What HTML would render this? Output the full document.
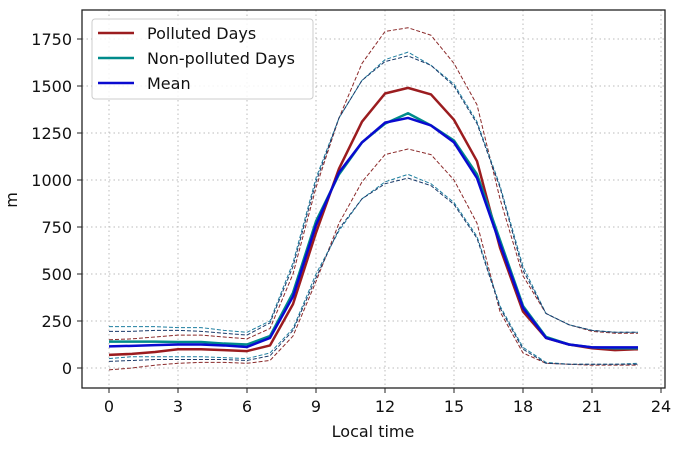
<!DOCTYPE html>
<html><head><meta charset="utf-8"><style>
body{margin:0;background:#fff;}
svg{font-family:"DejaVu Sans","Liberation Sans",sans-serif;}
</style></head><body>
<svg id="chart" width="695" height="450">
<g id="grid"></g>
<g id="series"></g>
<rect x="82" y="10" width="583" height="378" fill="none" stroke="#222" stroke-width="1.3"/>
<g id="xticks"></g>
<g id="yticks"></g>
<text x="373" y="437" font-size="16" text-anchor="middle" fill="#111">Local time</text>
<text x="17" y="200" font-size="16" text-anchor="middle" fill="#111" transform="rotate(-90 17 200)">m</text>
<g>
<rect x="92" y="19" width="221" height="80" rx="3" fill="#fff" fill-opacity="0.85" stroke="#ccc"/>
<line x1="98" y1="33" x2="134" y2="33" stroke="#9b1c1f" stroke-width="2.5"/>
<text x="147" y="39" font-size="16" fill="#111">Polluted Days</text>
<line x1="98" y1="58" x2="134" y2="58" stroke="#008b8b" stroke-width="2.5"/>
<text x="147" y="64" font-size="16" fill="#111">Non-polluted Days</text>
<line x1="98" y1="83" x2="134" y2="83" stroke="#0a0ad0" stroke-width="2.5"/>
<text x="147" y="89" font-size="16" fill="#111">Mean</text>
</g>
</svg>
<script>
const hours=[0,1,2,3,4,5,6,7,8,9,10,11,12,13,14,15,16,17,18,19,20,21,22,23];
const polluted=[70,75,85,100,100,95,90,120,340,720,1060,1310,1460,1490,1455,1320,1100,640,300,160,125,105,95,100];
const pollutedUpper=[150,155,165,175,175,165,155,210,500,960,1330,1620,1790,1810,1770,1620,1400,900,490,290,230,195,185,185];
const pollutedLower=[-10,0,15,25,30,30,25,40,170,460,770,990,1135,1165,1135,1000,770,300,80,25,20,15,15,15];
const nonPolluted=[140,140,140,138,138,130,125,170,400,780,1030,1200,1300,1355,1290,1210,1030,680,330,165,125,110,105,105];
const nonPollutedUpper=[220,220,220,215,215,200,190,250,560,1010,1330,1530,1640,1680,1610,1510,1310,970,540,290,230,200,190,190];
const nonPollutedLower=[50,60,60,60,60,55,50,80,210,500,730,900,990,1030,980,880,700,330,110,30,20,20,20,25];
const meanVals=[115,118,122,125,125,120,112,160,380,760,1040,1200,1305,1330,1290,1200,1010,660,320,160,125,110,110,110];
const meanUpper=[195,195,200,200,195,185,175,240,540,990,1330,1530,1630,1660,1610,1500,1300,960,520,290,230,200,190,190];
const meanLower=[35,40,45,45,45,45,40,65,200,480,740,900,980,1010,970,870,690,320,100,25,20,20,20,20];
const xTicks=[0,3,6,9,12,15,18,21,24];
const yTicks=[0,250,500,750,1000,1250,1500,1750];
const NS='http://www.w3.org/2000/svg';
const xs=v=>109+v*23;
const ys=v=>368-v*(329/1750);
function mk(tag,attrs,parent){const e=document.createElementNS(NS,tag);for(const k in attrs)e.setAttribute(k,attrs[k]);parent.appendChild(e);return e;}
const grid=document.getElementById('grid'),xt=document.getElementById('xticks'),yt=document.getElementById('yticks'),ser=document.getElementById('series');
xTicks.forEach(t=>{
  const g=mk('line',{x1:xs(t),x2:xs(t),y1:10,y2:388,stroke:'#bbb','stroke-dasharray':'1.5,3'},grid);
  
  
  mk('line',{x1:xs(t),x2:xs(t),y1:388,y2:393,stroke:'#222'},xt);
  const tx=mk('text',{x:xs(t),y:412,'font-size':16,'text-anchor':'middle',fill:'#111'},xt);tx.textContent=t;
  
  
});
yTicks.forEach(t=>{
  const g=mk('line',{x1:82,x2:665,y1:ys(t),y2:ys(t),stroke:'#bbb','stroke-dasharray':'1.5,3'},grid);
  
  
  mk('line',{x1:77,x2:82,y1:ys(t),y2:ys(t),stroke:'#222'},yt);
  const tx=mk('text',{x:72,y:ys(t)+6,'font-size':16,'text-anchor':'end',fill:'#111'},yt);tx.textContent=t;
  
  
});
function line(vals,color,w,dash,name){
  const p=mk('polyline',{points:vals.map((v,i)=>xs(hours[i])+','+ys(v)).join(' '),fill:'none',stroke:color,'stroke-width':w,'stroke-linejoin':'round'},ser);
  if(dash)p.setAttribute('stroke-dasharray',dash);
  
  
}
line(pollutedUpper,'#8b2a2a',1,'4,2','polluted-upper-dashed');
line(pollutedLower,'#8b2a2a',1,'4,2','polluted-lower-dashed');
line(nonPollutedUpper,'#1f7fa0',1,'4,2','non-polluted-upper-dashed');
line(nonPollutedLower,'#1f7fa0',1,'4,2','non-polluted-lower-dashed');
line(meanUpper,'#1a3a6a',1,'4,2','mean-upper-dashed');
line(meanLower,'#1a3a6a',1,'4,2','mean-lower-dashed');
line(polluted,'#9b1c1f',2.5,null,'polluted-line');
line(nonPolluted,'#008b8b',2.5,null,'non-polluted-line');
line(meanVals,'#0a0ad0',2.5,null,'mean-line');
</script>
</body></html>
